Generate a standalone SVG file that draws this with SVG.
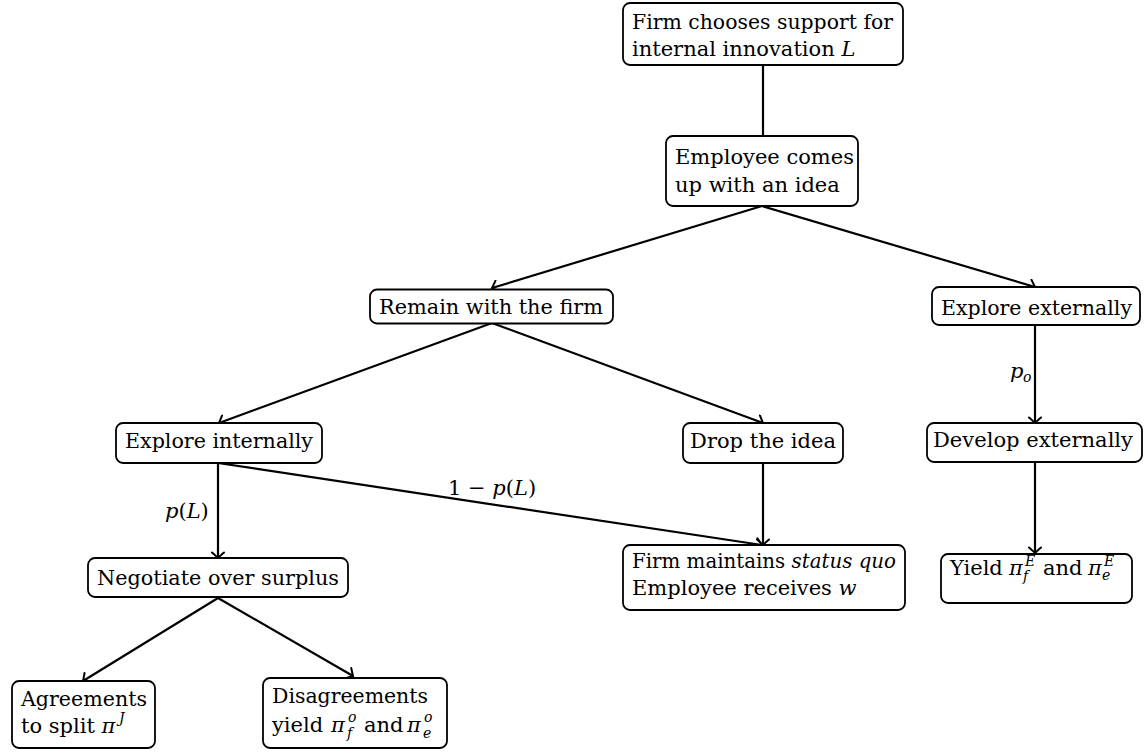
<svg xmlns="http://www.w3.org/2000/svg" width="1145" height="753" viewBox="0 0 1145 753">
<style>
.box{fill:#fff;stroke:#000;stroke-width:1.8}
text{font-family:"DejaVu Serif","Liberation Serif",serif;font-size:21px;fill:#000}
.it{font-style:italic}
.sm{font-size:14px;font-style:italic}
.edge{fill:none;stroke:#000;stroke-width:2.2}
</style>
<defs>
<marker id="ar" viewBox="-7 -7 14 14" markerWidth="14" markerHeight="14" markerUnits="userSpaceOnUse" refX="0" refY="0" orient="auto">
<path d="M-5.5,-6 Q-1.5,-1.5 0,0 Q-1.5,1.5 -5.5,6" fill="none" stroke="#000" stroke-width="2" stroke-linecap="round"/>
</marker>
</defs>
<g id="connectors">
<path class="edge" d="M763,65 L763,136"/>
<path class="edge" d="M762,206 L492,288" marker-end="url(#ar)"/>
<path class="edge" d="M762,206 L1035,287" marker-end="url(#ar)"/>
<path class="edge" d="M492,323 L219,423" marker-end="url(#ar)"/>
<path class="edge" d="M492,323 L763,423" marker-end="url(#ar)"/>
<path class="edge" d="M1035,325 L1035,423" marker-end="url(#ar)"/>
<path class="edge" d="M218,463 L218,558" marker-end="url(#ar)"/>
<path class="edge" d="M218,463 L762,545" marker-end="url(#ar)"/>
<path class="edge" d="M763,463 L763,545" marker-end="url(#ar)"/>
<path class="edge" d="M1035,462 L1035,553" marker-end="url(#ar)"/>
<path class="edge" d="M218,598 L83,681" marker-end="url(#ar)"/>
<path class="edge" d="M218,598 L353,676" marker-end="url(#ar)"/>
<text x="1010" y="378" class="it">p</text><text x="1023" y="382" class="sm">o</text>
<text x="165" y="518"><tspan class="it">p</tspan>(<tspan class="it">L</tspan>)</text>
<text x="448" y="495">1 − <tspan class="it">p</tspan>(<tspan class="it">L</tspan>)</text>
</g>
<g id="n1">
<rect class="box" x="623" y="3" width="280" height="62" rx="7"/>
<text x="632" y="28.5" textLength="261" lengthAdjust="spacingAndGlyphs">Firm chooses support for</text>
<text x="632" y="55.5">internal innovation <tspan class="it">L</tspan></text>
</g>
<g id="n2">
<rect class="box" x="666" y="136" width="192" height="70" rx="7"/>
<text x="675" y="163.5">Employee comes</text>
<text x="675" y="191.5">up with an idea</text>
</g>
<g id="n3">
<rect class="box" x="370" y="289.5" width="243" height="34" rx="7"/>
<text x="379" y="313.5" textLength="224" lengthAdjust="spacingAndGlyphs">Remain with the firm</text>
</g>
<g id="n4">
<rect class="box" x="932" y="287" width="208" height="38" rx="7"/>
<text x="941" y="314.5" textLength="191" lengthAdjust="spacingAndGlyphs">Explore externally</text>
</g>
<g id="n5">
<rect class="box" x="116" y="423" width="206" height="40" rx="7"/>
<text x="125" y="448" textLength="188" lengthAdjust="spacingAndGlyphs">Explore internally</text>
</g>
<g id="n6">
<rect class="box" x="683" y="423" width="160" height="40" rx="7"/>
<text x="763" y="448" text-anchor="middle">Drop the idea</text>
</g>
<g id="n7">
<rect class="box" x="927" y="423" width="215" height="39" rx="7"/>
<text x="933" y="447" textLength="200" lengthAdjust="spacingAndGlyphs">Develop externally</text>
</g>
<g id="n8">
<rect class="box" x="88" y="558" width="260" height="39" rx="7"/>
<text x="97" y="584.5" textLength="242" lengthAdjust="spacingAndGlyphs">Negotiate over surplus</text>
</g>
<g id="n9">
<rect class="box" x="623" y="545" width="282" height="65" rx="7"/>
<text x="632" y="568" textLength="264" lengthAdjust="spacingAndGlyphs">Firm maintains <tspan class="it">status quo</tspan></text>
<text x="632" y="595">Employee receives <tspan class="it">w</tspan></text>
</g>
<g id="n10">
<rect class="box" x="941" y="554" width="191" height="49" rx="7"/>
<text x="950" y="575">Yield</text>
<text x="1009" y="575" class="it">π</text><text x="1025" y="566" class="sm">E</text><text x="1023" y="581" class="sm">f</text>
<text x="1043" y="575">and</text>
<text x="1088" y="575" class="it">π</text><text x="1104" y="566" class="sm">E</text><text x="1102" y="580" class="sm">e</text>
</g>
<g id="n11">
<rect class="box" x="12" y="681" width="143" height="67" rx="7"/>
<text x="21" y="706" textLength="126" lengthAdjust="spacingAndGlyphs">Agreements</text>
<text x="21" y="733">to split <tspan class="it">π</tspan></text><text x="119" y="723" class="sm">J</text>
</g>
<g id="n12">
<rect class="box" x="263" y="678" width="184" height="70" rx="7"/>
<text x="272" y="703" textLength="156" lengthAdjust="spacingAndGlyphs">Disagreements</text>
<text x="272" y="732">yield</text>
<text x="331" y="732" class="it">π</text><text x="348" y="722" class="sm">o</text><text x="347" y="738" class="sm">f</text>
<text x="364" y="732">and</text>
<text x="407" y="732" class="it">π</text><text x="424" y="722" class="sm">o</text><text x="423" y="738" class="sm">e</text>
</g>
</svg>
